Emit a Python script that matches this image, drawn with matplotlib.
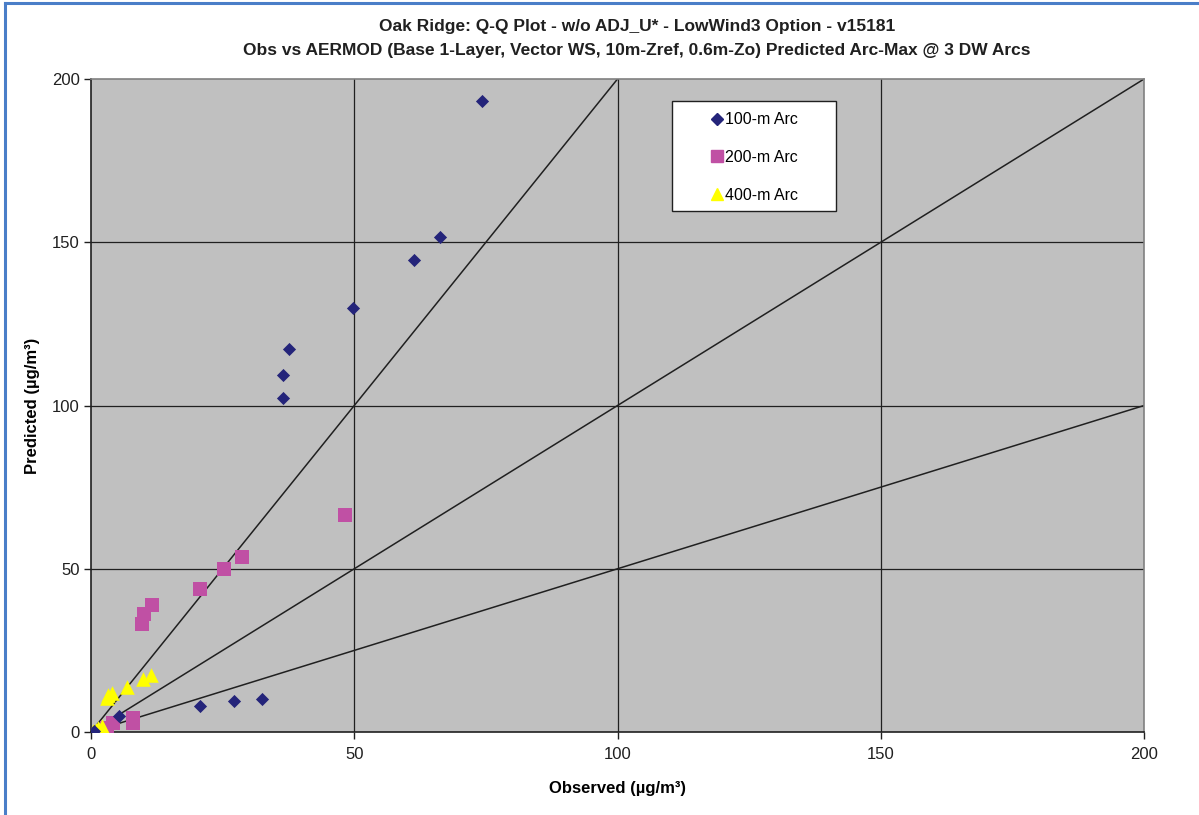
import numpy as np
import matplotlib
matplotlib.use("Agg")
import matplotlib.pyplot as plt
from matplotlib.lines import Line2D
from matplotlib.patches import Rectangle

plt.rcParams['font.family'] = ['Liberation Sans', 'DejaVu Sans']

# observed vs predicted arc-max concentrations (ug/m3)
obs_100 = [74.3, 66.3, 61.3, 49.7, 37.6, 36.5, 36.5, 32.5, 27.2, 20.7, 5.3, 0.5]
pred_100 = [193.2, 151.6, 144.6, 129.9, 117.2, 109.2, 102.2, 10.1, 9.6, 8.1, 4.9, 0.4]

obs_200 = [48.3, 28.6, 25.2, 20.7, 11.5, 10.1, 9.7, 7.9, 7.9, 4.2, 3.0]
pred_200 = [66.5, 53.7, 49.9, 43.9, 38.9, 36.3, 33.0, 4.2, 2.7, 2.9, 1.1]

obs_400 = [11.4, 9.8, 6.8, 3.9, 3.3, 3.0, 2.0, 1.4, 0.9, 0.4]
pred_400 = [17.5, 16.1, 13.9, 12.0, 11.3, 10.3, 2.0, 1.3, 0.7, 0.3]

ref_slopes = [2.0, 1.0, 0.5]
ticks = [0, 50, 100, 150, 200]

fig = plt.figure(figsize=(11.99, 8.15), dpi=100)
ax = fig.add_axes([0.0759, 0.1018, 0.8783, 0.8013])
ax.set_facecolor('#C0C0C0')

for t in ticks[1:-1]:
    ax.axhline(t, color='#202020', lw=0.9, zorder=1)
    ax.axvline(t, color='#202020', lw=0.9, zorder=1)

xs = np.array([0, 200])
for s in ref_slopes:
    ax.plot(xs, s * xs, color='#202020', lw=1.1, zorder=2)

ax.scatter(obs_100, pred_100, marker='D', s=45, color='#24247A', zorder=4, linewidths=0)
ax.scatter(obs_200, pred_200, marker='s', s=95, color='#C050A4', zorder=3, linewidths=0)
ax.scatter(obs_400, pred_400, marker='^', s=110, color='#FFFF00', zorder=3, linewidths=0)

ax.set_xlim(0, 200)
ax.set_ylim(0, 200)
ax.set_xticks(ticks)
ax.set_yticks(ticks)
ax.tick_params(axis='both', labelsize=12, length=5, width=1, color='#202020',
               labelcolor='#202020')
ax.tick_params(axis='x', pad=6)
ax.tick_params(axis='y', pad=3)
for side in ['top', 'right']:
    ax.spines[side].set_color('#808080')
    ax.spines[side].set_linewidth(1.2)
for side in ['bottom', 'left']:
    ax.spines[side].set_color('#202020')
    ax.spines[side].set_linewidth(1.2)

ax.set_xlabel('Observed (\u00b5g/m\u00b3)', fontsize=12, fontweight='bold')
ax.set_ylabel('Predicted (\u00b5g/m\u00b3)', fontsize=12, fontweight='bold')
ax.xaxis.set_label_coords(0.5, -0.075)
ax.yaxis.set_label_coords(-0.0485, 0.5)

fig.text(0.531, 0.967, 'Oak Ridge: Q-Q Plot - w/o ADJ_U* - LowWind3 Option - v15181',
         ha='center', va='center', fontsize=12.5, fontweight='bold', color='#202020')
fig.text(0.531, 0.938,
         'Obs vs AERMOD (Base 1-Layer, Vector WS, 10m-Zref, 0.6m-Zo) Predicted Arc-Max @ 3 DW Arcs',
         ha='center', va='center', fontsize=12.5, fontweight='bold', color='#202020')

# legend box drawn separately so its padding can be wider than tall
ax.add_patch(Rectangle((0.5518, 0.7979), 0.1557, 0.1684, transform=ax.transAxes,
                       facecolor='white', edgecolor='#202020', lw=1.0, zorder=5))
handles = [
    Line2D([], [], marker='D', ls='none', color='#24247A', markersize=6),
    Line2D([], [], marker='s', ls='none', color='#C050A4', markersize=9),
    Line2D([], [], marker='^', ls='none', color='#FFFF00', markersize=9),
]
leg = ax.legend(handles, ['100-m Arc', '200-m Arc', '400-m Arc'],
                loc='center', bbox_to_anchor=(0.6297, 0.8798), fontsize=11.5,
                frameon=False, labelspacing=1.42, handletextpad=0.05,
                handlelength=0.9, borderpad=0, borderaxespad=0)
leg.set_zorder(6)

# chart-area border on the left and top edges
fig.add_artist(Line2D([0.0045, 0.0045], [0, 0.996], color='#4A7EC8', lw=2.2,
                      transform=fig.transFigure))
fig.add_artist(Line2D([0.0045, 1.0], [0.996, 0.996], color='#4A7EC8', lw=2.2,
                      transform=fig.transFigure))

fig.savefig('out.png', dpi=100)
